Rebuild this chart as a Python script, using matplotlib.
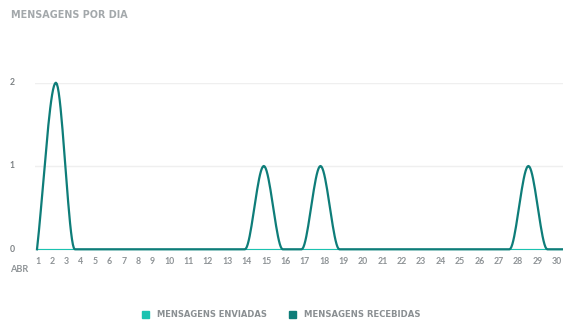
import numpy as np
import matplotlib
matplotlib.use("Agg")
import matplotlib.pyplot as plt
from matplotlib.patches import Rectangle

plt.rcParams['font.family'] = ['Lato', 'DejaVu Sans']

days = list(range(1, 31))
enviadas = [0, 0, 0, 0, 0, 0, 0, 0, 0, 0, 0, 0, 0, 0, 0,
            0, 0, 0, 0, 0, 0, 0, 0, 0, 0, 0, 0, 0, 0, 0]
recebidas = [0, 2, 0, 0, 0, 0, 0, 0, 0, 0, 0, 0, 1, 0, 0,
             1, 0, 0, 0, 0, 0, 0, 0, 0, 0, 0, 1, 0, 0, 0]
yticks = [0, 1, 2]
month_label = "ABR"
title = "MENSAGENS POR DIA"
legend_labels = ["MENSAGENS ENVIADAS", "MENSAGENS RECEBIDAS"]

LIGHT_TEAL = "#1bc3b1"
DARK_TEAL = "#0e7d79"
GRID = "#efefef"

W, H = 563, 320
DPI = 100


def monotone_curve(x, y, n=20):
    # Fritsch-Carlson monotone cubic, the same smoothing the web chart uses
    x = np.asarray(x, float)
    y = np.asarray(y, float)
    h = np.diff(x)
    s = np.diff(y) / h
    m = np.zeros_like(y)
    m[0], m[-1] = s[0], s[-1]
    for i in range(1, len(y) - 1):
        if s[i - 1] * s[i] > 0:
            m[i] = 2 / (1 / s[i - 1] + 1 / s[i])
    xs, ys = [], []
    for i in range(len(h)):
        t = np.linspace(0, 1, n, endpoint=False)
        h00 = 2 * t**3 - 3 * t**2 + 1
        h10 = t**3 - 2 * t**2 + t
        h01 = -2 * t**3 + 3 * t**2
        h11 = t**3 - t**2
        xs.append(x[i] + t * h[i])
        ys.append(h00 * y[i] + h10 * h[i] * m[i] + h01 * y[i + 1] + h11 * h[i] * m[i + 1])
    xs.append([x[-1]])
    ys.append([y[-1]])
    return np.concatenate(xs), np.concatenate(ys)


fig = plt.figure(figsize=(W / DPI, H / DPI), dpi=DPI)
renderer = fig.canvas.get_renderer()


def caps_text(x_px, y_px, s, width_px, color):
    # bold caps label sized so it spans width_px
    t = fig.text(x_px / W, (H - y_px) / H, s, fontsize=6, color=color,
                 family='DejaVu Sans', fontweight='bold', ha='left', va='center')
    w = t.get_window_extent(renderer).width
    t.set_fontsize(6 * width_px / w)
    return t


# plot area in pixels: x 35..563, value 0 at 249.3 and 2 at 82.7
left, right = 35, 563
y0_px, y2_px = 249.3, 82.7
ax = fig.add_axes([left / W, (H - y0_px) / H, (right - left) / W, (y0_px - y2_px) / H])
px_per_day = 18.9
first_px = 37
ax.set_xlim(1 - (first_px - left) / px_per_day, 1 + (right - first_px) / px_per_day)
ax.set_ylim(0, 2)

for v in yticks:
    ax.axhline(v, color=GRID, lw=1, zorder=0)

xe, ye = monotone_curve(days, enviadas)
ax.plot(xe, ye, color=LIGHT_TEAL, lw=0.8, clip_on=False, zorder=2)
xr, yr = monotone_curve(days, recebidas)
ax.plot(xr, yr, color=DARK_TEAL, lw=1.6, clip_on=False, zorder=3,
        solid_joinstyle='round')

ax.set_xticks([])
ax.set_yticks([])
for sp in ax.spines.values():
    sp.set_visible(False)

# y labels
for v in yticks:
    fig.text(12 / W, ax.transData.transform((0, v))[1] / H, str(v),
             fontsize=6.2, color="#7d8285", ha='center', va='center', fontweight='bold')

# day labels laid out with equal gaps between them, like a flex row
texts = [fig.text(0, (H - 262) / H, str(d), fontsize=6.3, color="#8e9396",
                  ha='left', va='center', fontweight='bold') for d in days]
widths = [t.get_window_extent(renderer).width for t in texts]
row_left, row_right = 35.5, 562
gap = (row_right - row_left - sum(widths)) / (len(texts) - 1)
pos = row_left
for t, w in zip(texts, widths):
    t.set_x(pos / W)
    pos += w + gap

fig.text(10 / W, (H - 270) / H, month_label, fontsize=6.6, color="#8e9396",
         ha='left', va='center', fontweight='bold')
caps_text(11, 15.5, title, 116, "#a3a8ab")

# legend
legend_y = 314.3
sq = 7
for lx, tx, tw, color, label in [(142.3, 157.3, 111, LIGHT_TEAL, legend_labels[0]),
                                 (289.3, 304.3, 116, DARK_TEAL, legend_labels[1])]:
    fig.patches.append(Rectangle((lx / W, (H - legend_y - sq / 2) / H), sq / W, sq / H,
                                 transform=fig.transFigure, color=color))
    caps_text(tx, legend_y, label, tw, "#8a8f92")

fig.savefig("out.png", dpi=DPI, facecolor="white")
